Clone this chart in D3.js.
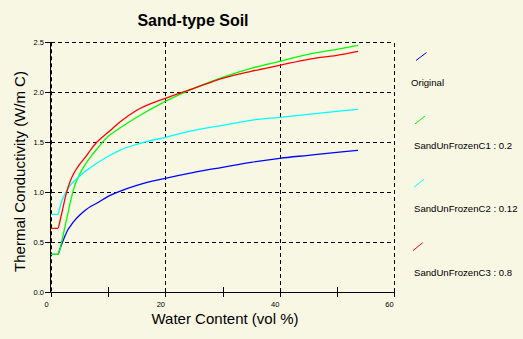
<!DOCTYPE html>
<html>
<head>
<meta charset="utf-8">
<script src="https://cdn.jsdelivr.net/npm/d3@7"></script>
<style>
  html, body { margin: 0; padding: 0; background: #F8F7E4; }
  svg { display: block; }
  text { font-family: Arial, "Liberation Sans", sans-serif; fill: #000; }
</style>
</head>
<body>
<svg id="chart" width="523" height="339"></svg>
<script>
// Water content (vol %) sample points
const waterContent = [0, 1.2, 1.6, 2, 2.5, 3, 3.5, 4, 5, 6, 7, 8, 10, 12, 15, 20, 25, 30, 35, 40, 45, 50, 53.7];

// Thermal conductivity (W/m C) for each model
const original   = [0.38, 0.38, 0.44, 0.50, 0.57, 0.63, 0.67, 0.71, 0.77, 0.82, 0.86, 0.89, 0.96, 1.01, 1.07, 1.14, 1.20, 1.25, 1.30, 1.34, 1.37, 1.40, 1.42];
const unfrozenC1 = [0.38, 0.38, 0.44, 0.54, 0.67, 0.80, 0.93, 1.04, 1.18, 1.28, 1.36, 1.43, 1.56, 1.64, 1.75, 1.91, 2.04, 2.15, 2.24, 2.31, 2.38, 2.43, 2.47];
const unfrozenC2 = [0.78, 0.78, 0.86, 0.93, 0.99, 1.04, 1.08, 1.11, 1.16, 1.21, 1.25, 1.29, 1.36, 1.42, 1.48, 1.55, 1.62, 1.67, 1.72, 1.75, 1.78, 1.81, 1.83];
const unfrozenC3 = [0.64, 0.64, 0.72, 0.82, 0.95, 1.05, 1.13, 1.19, 1.28, 1.35, 1.43, 1.50, 1.60, 1.70, 1.82, 1.94, 2.04, 2.14, 2.21, 2.27, 2.33, 2.37, 2.41];

const seriesNames = ["Original", "SandUnFrozenC1 : 0.2", "SandUnFrozenC2 : 0.12", "SandUnFrozenC3 : 0.8"];
const seriesColors = ["#0000FF", "#00FF00", "#00FFFF", "#FF0000"];

const yTickValues = [0, 0.5, 1.0, 1.5, 2.0, 2.5];
const xTickValues = [0, 10, 20, 30, 40, 50, 60];
const xLabelValues = [0, 20, 40, 60];

const svg = d3.select("#chart");
const plot = { left: 51, right: 394, top: 42.3, bottom: 292.3 };

const x = d3.scaleLinear().domain([0, 60]).range([plot.left, plot.right]);
const y = d3.scaleLinear().domain([0, 2.5]).range([plot.bottom, plot.top]);

// Title
svg.append("text")
  .attr("x", 193).attr("y", 26)
  .attr("text-anchor", "middle")
  .style("font-size", "16px").style("font-weight", "bold")
  .text("Sand-type Soil");

// Horizontal dashed grid lines
svg.append("g")
  .attr("transform", `translate(${plot.left},0)`)
  .call(d3.axisLeft(y).tickValues(yTickValues.filter(d => d > 0)).tickSize(-(plot.right - plot.left)).tickFormat(""))
  .call(g => g.select(".domain").remove())
  .call(g => g.selectAll("line").attr("stroke", "#000").attr("stroke-dasharray", "4,3").attr("shape-rendering", "crispEdges"));

// Vertical dashed grid lines
svg.append("g")
  .attr("transform", `translate(0,${plot.bottom})`)
  .call(d3.axisBottom(x).tickValues([20, 40, 60]).tickSize(-(plot.bottom - plot.top)).tickFormat(""))
  .call(g => g.select(".domain").remove())
  .call(g => g.selectAll("line").attr("stroke", "#000").attr("stroke-dasharray", "4,3").attr("shape-rendering", "crispEdges"));

// Y axis: ticks and labels
const yAxis = svg.append("g")
  .attr("transform", `translate(${plot.left},0)`)
  .call(d3.axisLeft(y).tickValues(yTickValues).tickSize(6).tickPadding(1).tickFormat(d3.format(".1f")));
yAxis.select(".domain").remove();
yAxis.selectAll("line").attr("stroke", "#000").attr("shape-rendering", "crispEdges");
yAxis.selectAll("text").style("font-size", "7.5px").attr("dy", "0.3em");

// Double left axis line (solid + dashed)
svg.append("line")
  .attr("x1", plot.left - 0.5).attr("x2", plot.left - 0.5)
  .attr("y1", plot.top).attr("y2", plot.bottom)
  .attr("stroke", "#000").attr("stroke-width", 1);
svg.append("line")
  .attr("x1", plot.left + 0.5).attr("x2", plot.left + 0.5)
  .attr("y1", plot.top).attr("y2", plot.bottom)
  .attr("stroke", "#000").attr("stroke-width", 1).attr("stroke-dasharray", "4,3");

// X axis: ticks crossing the baseline, labels on the major ticks
const xAxis = svg.append("g")
  .attr("transform", `translate(0,${plot.bottom})`)
  .call(d3.axisBottom(x).tickValues(xTickValues).tickSize(5).tickPadding(4)
    .tickFormat(d => xLabelValues.includes(d) ? d : ""));
xAxis.select(".domain").attr("d", `M${plot.left},0.5H${plot.right}`).attr("stroke", "#000").attr("shape-rendering", "crispEdges");
xAxis.selectAll(".tick line").attr("y1", d => (d % 20 === 0 ? 0 : -5)).attr("stroke", "#000").attr("shape-rendering", "crispEdges");
xAxis.selectAll(".tick text").style("font-size", "7.5px").attr("dx", -5);

// Axis titles
svg.append("text")
  .attr("x", 225).attr("y", 324)
  .attr("text-anchor", "middle")
  .style("font-size", "15px")
  .text("Water Content (vol %)");
svg.append("text")
  .attr("transform", "translate(25,171.5) rotate(-90)")
  .attr("text-anchor", "middle")
  .style("font-size", "15px")
  .text("Thermal Conductivity (W/m C)");

// Curves
const allSeries = [original, unfrozenC1, unfrozenC2, unfrozenC3];
const line = d3.line()
  .x((d, i) => x(waterContent[i]))
  .y(d => y(d))
  .curve(d3.curveMonotoneX);

svg.append("g").selectAll("path")
  .data(allSeries)
  .join("path")
  .attr("d", line)
  .attr("fill", "none")
  .attr("stroke", (d, i) => seriesColors[i])
  .attr("stroke-width", 1.3);

// Legend
const legend = svg.append("g").selectAll("g")
  .data(seriesNames)
  .join("g")
  .attr("transform", (d, i) => `translate(0,${i * 63.4})`);
legend.append("line")
  .attr("x1", (d, i) => 416 - i)
  .attr("y1", 60.5)
  .attr("x2", (d, i) => 426.5 - i * 1.3)
  .attr("y2", 52.5)
  .attr("stroke", (d, i) => seriesColors[i])
  .attr("stroke-width", 1);
legend.append("text")
  .attr("x", (d, i) => (i === 0 ? 411 : 414))
  .attr("y", 85.5)
  .style("font-size", "9.6px")
  .text(d => d);
</script>
</body>
</html>
